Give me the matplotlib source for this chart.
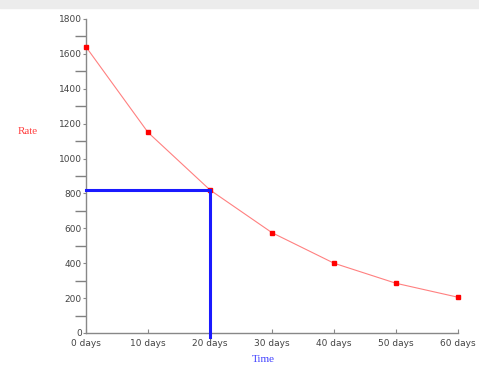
import matplotlib.pyplot as plt
from matplotlib.patches import Rectangle
from matplotlib.ticker import MultipleLocator

# data
days = [0, 10, 20, 30, 40, 50, 60]
rate = [1640, 1150, 820, 575, 400, 285, 205]
day_labels = ['0 days', '10 days', '20 days', '30 days', '40 days', '50 days', '60 days']
mark_day = 20
mark_rate = 820

fig = plt.figure(figsize=(4.79, 3.65), dpi=100)
# light grey strip on top of the image
fig.patches.append(Rectangle((0, 357 / 365), 1, 8 / 365, transform=fig.transFigure,
                             color='#ececec', zorder=0))
ax = fig.add_axes([86 / 479, 32 / 365, 372 / 479, 314 / 365])

ax.plot(days, rate, '-', color='#ff8080', lw=0.8, zorder=2)
ax.plot(days, rate, 's', color='red', ms=2.5, zorder=3, clip_on=False)

# blue guide lines
ax.plot([0, mark_day], [mark_rate, mark_rate], color='#1a1aff', lw=2.2, zorder=4, clip_on=False)
ax.plot([mark_day, mark_day], [mark_rate, -25], color='#1a1aff', lw=2.2, zorder=4, clip_on=False)

ax.set_xlim(0, 60)
ax.set_ylim(0, 1800)
for s in ['top', 'right']:
    ax.spines[s].set_visible(False)
for s in ['left', 'bottom']:
    ax.spines[s].set_color('#888888')
    ax.spines[s].set_linewidth(1.0)

ax.set_xticks(days)
ax.set_xticklabels(day_labels)
ax.yaxis.set_major_locator(MultipleLocator(200))
ax.yaxis.set_minor_locator(MultipleLocator(100))
ax.tick_params(axis='y', which='major', length=2, color='#888888', labelsize=6.5,
               labelcolor='#444444', pad=1)
ax.tick_params(axis='y', which='minor', length=8, width=1.0, color='#808080')
ax.tick_params(axis='x', which='major', direction='in', length=3, color='#888888',
               labelsize=6.5, labelcolor='#444444', pad=4)
# the "0" label sits a little above the axis
ax.get_yticklabels()[0].set_va('bottom')

fig.text(28 / 479, 1 - 131 / 365, 'Rate', color='#ff4040', fontsize=8,
         family='Liberation Serif', ha='center', va='center')
fig.text(263 / 479, 1 - 359 / 365, 'Time', color='#4040ff', fontsize=8,
         family='Liberation Serif', ha='center', va='center')

fig.savefig('out.png', dpi=100)
